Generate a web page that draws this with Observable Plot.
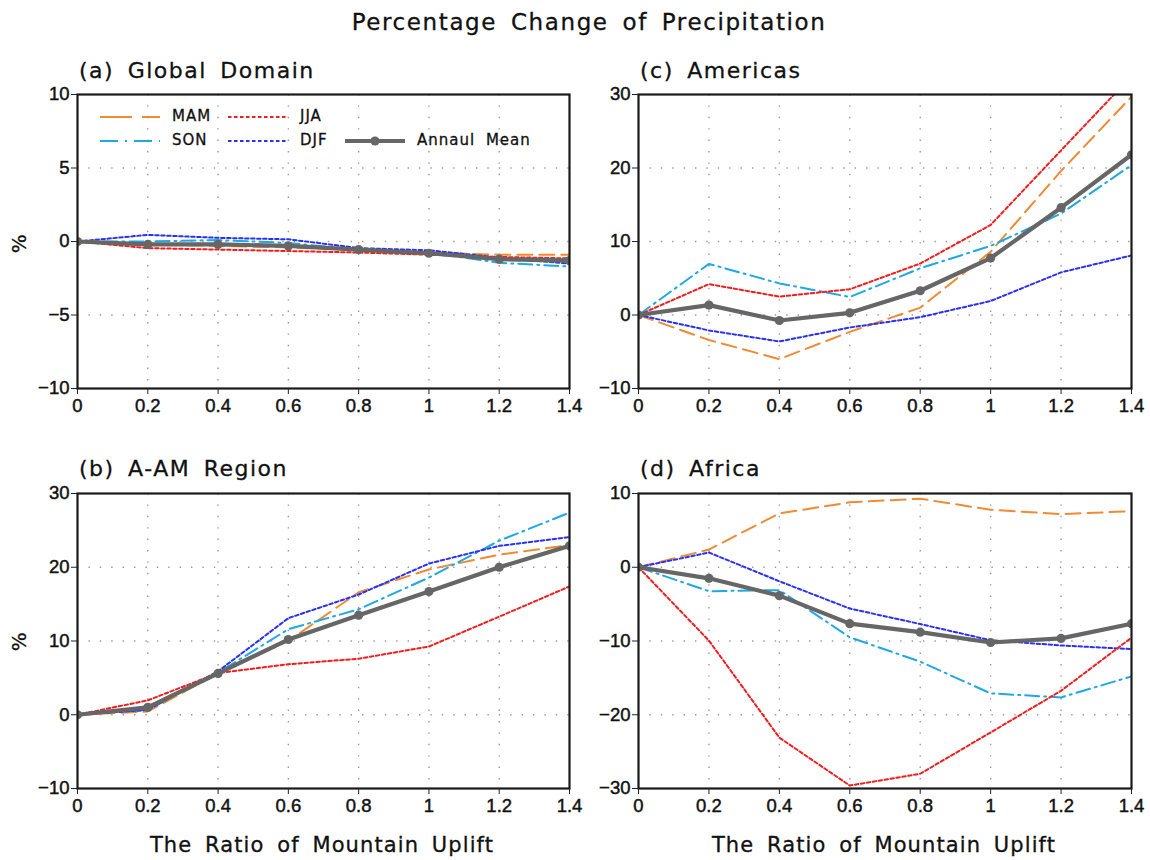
<!DOCTYPE html>
<html>
<head>
<meta charset="utf-8">
<script src="https://cdn.jsdelivr.net/npm/d3@7"></script>
<script src="https://cdn.jsdelivr.net/npm/@observablehq/plot@0.6"></script>
<style>
  html, body { margin: 0; padding: 0; background: #fff; }
  #page { position: relative; width: 1150px; height: 860px; background: #fff; overflow: hidden; }
  .txt { position: absolute; font-family: "DejaVu Sans", sans-serif; color: #111; white-space: nowrap; line-height: 1; letter-spacing: 1.3px; word-spacing: 5px; -webkit-text-stroke: 0.3px #111; }
  .plotbox { position: absolute; }
  .plotbox svg { overflow: visible; }
  .plotbox svg text { font-size: 18.5px !important; font-family: "Liberation Sans", Arial, sans-serif !important; fill: #111; stroke: #111; stroke-width: 0.45px; }
  .leg { position: absolute; font-family: "DejaVu Sans", sans-serif; font-size: 15px; color: #111; white-space: nowrap; line-height: 1; letter-spacing: 1px; word-spacing: 5px; -webkit-text-stroke: 0.3px #111; }
  .sw { position: absolute; }
</style>
</head>
<body>
<div id="page"></div>
<script>
// ---------------- data ----------------
const ratios = [0, 0.2, 0.4, 0.6, 0.8, 1, 1.2, 1.4];
const seasonNames = ["MAM", "SON", "DJF", "JJA"];
const seasonColors = ["#f08a33", "#1ea8e6", "#2a32f0", "#f01e1e"];
const seasonDash = ["15,7", "14,5,2,5", "3.5,2.5", "3.5,2.5"];
const annualName = "Annaul Mean";
const annualColor = "#666666";

// (a) Global Domain
const global_MAM = [0, -0.2, -0.3, -0.4, -0.55, -0.75, -0.9, -0.9];
const global_JJA = [0, -0.45, -0.55, -0.65, -0.75, -0.9, -1.05, -1.15];
const global_SON = [0, 0.0, 0.1, -0.1, -0.55, -0.75, -1.45, -1.7];
const global_DJF = [0, 0.45, 0.25, 0.15, -0.45, -0.6, -1.1, -1.5];
const global_ANN = [0, -0.2, -0.2, -0.3, -0.55, -0.8, -1.2, -1.3];

// (b) A-AM Region
const aam_MAM = [0, 0.45, 5.6, 10.0, 16.6, 19.7, 21.7, 23.0];
const aam_JJA = [0, 1.95, 5.65, 6.85, 7.6, 9.25, 13.3, 17.4];
const aam_SON = [0, 0.7, 5.7, 11.6, 14.3, 18.6, 23.6, 27.4];
const aam_DJF = [0, 0.65, 5.9, 13.1, 16.3, 20.5, 22.9, 24.1];
const aam_ANN = [0, 1.0, 5.6, 10.2, 13.5, 16.7, 20.0, 22.9];

// (c) Americas
const amer_MAM = [0, -3.4, -6.0, -2.3, 1.0, 8.6, 19.6, 29.7];
const amer_JJA = [0, 4.2, 2.5, 3.5, 7.0, 12.25, 22.4, 32.5];
const amer_SON = [0, 6.95, 4.3, 2.45, 6.35, 9.4, 13.8, 20.4];
const amer_DJF = [0, -2.1, -3.6, -1.7, -0.3, 1.9, 5.8, 8.1];
const amer_ANN = [0, 1.35, -0.75, 0.3, 3.3, 7.75, 14.6, 21.8];

// (d) Africa
const afr_MAM = [0, 2.4, 7.3, 8.8, 9.3, 7.8, 7.2, 7.6];
const afr_JJA = [0, -9.95, -23.1, -29.6, -28.0, -22.4, -16.75, -9.55];
const afr_SON = [0, -3.25, -3.1, -9.5, -12.8, -17.1, -17.65, -14.8];
const afr_DJF = [0, 2.0, -1.9, -5.6, -7.7, -9.9, -10.6, -11.1];
const afr_ANN = [0, -1.5, -3.85, -7.65, -8.8, -10.2, -9.65, -7.65];

const yTicksA = [-10, -5, 0, 5, 10];
const yTicksB = [-10, 0, 10, 20, 30];
const yTicksC = [-10, 0, 10, 20, 30];
const yTicksD = [-30, -20, -10, 0, 10];

const mainTitle = "Percentage Change of Precipitation";
const panelTitles = ["(a) Global Domain", "(b) A-AM Region", "(c) Americas", "(d) Africa"];
const xLabel = "The Ratio of Mountain Uplift";
const yLabel = "%";

// ---------------- drawing ----------------
const page = document.getElementById("page");
const rows = (vals) => ratios.map((x, i) => ({x, y: vals[i]}));
const fmt = (d) => d < 0 ? "\u2212" + Math.abs(d) : String(d);

function panel({left, top, mLeft, frameW, frameH, yTicks, seasons, annual}) {
  const mTop = 10, mRight = 18, mBottom = 40;
  const interiorY = yTicks.slice(1, -1);
  const interiorX = ratios.slice(1, -1);
  const marks = [
    Plot.gridX(interiorX, {stroke: "#9a9a9a", strokeOpacity: 1, strokeWidth: 1.4, strokeDasharray: "1.4,10"}),
    Plot.gridY(interiorY, {stroke: "#9a9a9a", strokeOpacity: 1, strokeWidth: 1.4, strokeDasharray: "1.4,10"}),
  ];
  seasons.forEach((vals, i) => {
    marks.push(Plot.line(rows(vals), {x: "x", y: "y", stroke: seasonColors[i], strokeWidth: 2, strokeDasharray: seasonDash[i], clip: true}));
  });
  marks.push(Plot.line(rows(annual), {x: "x", y: "y", stroke: annualColor, strokeWidth: 4.2, clip: true}));
  marks.push(Plot.dot(rows(annual), {x: "x", y: "y", r: 4.6, fill: annualColor, stroke: "none", clip: true}));
  marks.push(Plot.frame({stroke: "#1a1a1a", strokeWidth: 2.2}));
  marks.push(Plot.axisX({ticks: ratios, tickFormat: fmt, tickSize: 6, tickPadding: 4, label: null, stroke: "#222"}));
  marks.push(Plot.axisY({ticks: yTicks, tickFormat: fmt, tickSize: 6, tickPadding: 2, label: null, stroke: "#222"}));
  const chart = Plot.plot({
    width: mLeft + frameW + mRight,
    height: mTop + frameH + mBottom,
    marginLeft: mLeft, marginTop: mTop, marginRight: mRight, marginBottom: mBottom,
    x: {domain: [0, 1.4]},
    y: {domain: [yTicks[0], yTicks[yTicks.length - 1]]},
    style: {fontFamily: "'Liberation Sans', Arial, sans-serif", fontSize: "18.5px", color: "#111", background: "transparent", overflow: "visible"},
    marks
  });
  const box = document.createElement("div");
  box.className = "plotbox";
  box.style.left = left + "px";
  box.style.top = (top - mTop) + "px";
  box.appendChild(chart);
  page.appendChild(box);
}

panel({left: 0, top: 94, mLeft: 77, frameW: 492, frameH: 294, yTicks: yTicksA,
  seasons: [global_MAM, global_SON, global_DJF, global_JJA], annual: global_ANN});
panel({left: 570, top: 94, mLeft: 68, frameW: 493, frameH: 294, yTicks: yTicksC,
  seasons: [amer_MAM, amer_SON, amer_DJF, amer_JJA], annual: amer_ANN});
panel({left: 0, top: 493, mLeft: 77, frameW: 492, frameH: 295, yTicks: yTicksB,
  seasons: [aam_MAM, aam_SON, aam_DJF, aam_JJA], annual: aam_ANN});
panel({left: 570, top: 493, mLeft: 68, frameW: 493, frameH: 295, yTicks: yTicksD,
  seasons: [afr_MAM, afr_SON, afr_DJF, afr_JJA], annual: afr_ANN});

function addText(str, x, y, size, opts = {}) {
  const d = document.createElement("div");
  d.className = "txt";
  d.textContent = str;
  d.style.left = x + "px";
  d.style.top = y + "px";
  d.style.fontSize = size + "px";
  if (opts.spacing != null) d.style.letterSpacing = opts.spacing + "px";
  if (opts.center) d.style.transform = "translateX(-50%)";
  if (opts.rotate) d.style.transform = "translate(-50%,-50%) rotate(-90deg)";
  page.appendChild(d);
  return d;
}

addText(mainTitle, 589, 11, 23, {center: true, spacing: 1.6});
addText(panelTitles[0], 79, 60, 22, {spacing: 1.5});
addText(panelTitles[2], 640, 60, 22, {spacing: 1.5});
addText(panelTitles[1], 79, 458, 22, {spacing: 1.5});
addText(panelTitles[3], 640, 458, 22, {spacing: 1.5});
addText(xLabel, 322, 835, 21, {center: true, spacing: 1.1});
addText(xLabel, 884, 835, 21, {center: true, spacing: 1.1});
addText(yLabel, 19, 243, 20, {rotate: true});
addText(yLabel, 19, 641, 20, {rotate: true});

// ---------------- legend (inside panel a) ----------------
function swatch(x, y, color, dash, width, withDot) {
  const ns = "http://www.w3.org/2000/svg";
  const s = document.createElementNS(ns, "svg");
  s.setAttribute("width", 62); s.setAttribute("height", 12);
  s.setAttribute("class", "sw");
  s.style.left = x + "px"; s.style.top = (y - 6) + "px";
  const l = document.createElementNS(ns, "line");
  l.setAttribute("x1", 0); l.setAttribute("x2", 60); l.setAttribute("y1", 6); l.setAttribute("y2", 6);
  l.setAttribute("stroke", color); l.setAttribute("stroke-width", width);
  if (dash) l.setAttribute("stroke-dasharray", dash);
  s.appendChild(l);
  if (withDot) {
    const c = document.createElementNS(ns, "circle");
    c.setAttribute("cx", 30); c.setAttribute("cy", 6); c.setAttribute("r", 4.6); c.setAttribute("fill", color);
    s.appendChild(c);
  }
  page.appendChild(s);
}
function legText(str, x, y) {
  const d = document.createElement("div");
  d.className = "leg";
  d.textContent = str;
  d.style.left = x + "px"; d.style.top = (y - 8) + "px";
  page.appendChild(d);
}
const legPos = [[100, 117, 172], [100, 141, 172], [228, 141, 300], [228, 117, 300]];
seasonNames.forEach((n, i) => {
  const [sx, sy, tx] = legPos[i];
  swatch(sx, sy, seasonColors[i], i === 0 ? "32,10" : (i === 1 ? "18,7,2,7" : "3.5,2.5"), 2, false);
  legText(n, tx, sy);
});
swatch(345, 141, annualColor, null, 4.2, true);
legText(annualName, 417, 141);
</script>
</body>
</html>
